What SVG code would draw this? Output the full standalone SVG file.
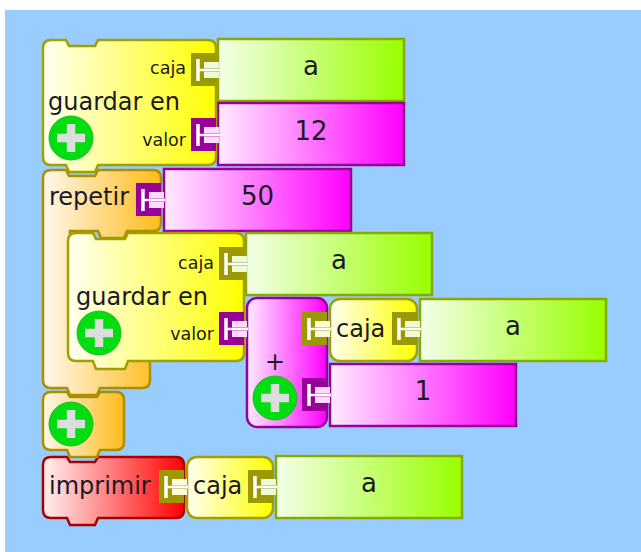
<svg xmlns="http://www.w3.org/2000/svg" width="641" height="552" viewBox="0 0 641 552">
<style>
.t{font-family:"DejaVu Sans","Liberation Sans",sans-serif;fill:#1a1a26}
.big{font-size:24px}
.lbl{font-size:17.5px;text-anchor:end}
.val{font-size:26px;text-anchor:middle}
.yb{fill:url(#gy);stroke:#a0a000;stroke-width:2.5}
.ob{fill:url(#go);stroke:#aa9000;stroke-width:2.5}
.rb{fill:url(#gr);stroke:#aa0000;stroke-width:2.5}
.mb{fill:url(#gm);stroke:#990099;stroke-width:2.5}
.gb{fill:url(#gg);stroke:#88aa00;stroke-width:2.5}
.wl{stroke:#ffffff;fill:none}
</style>
<defs>
<linearGradient id="gy" x1="0" x2="1" y1="0" y2="0"><stop offset="0" stop-color="#fffff2"/><stop offset="1" stop-color="#ffff00"/></linearGradient>
<linearGradient id="go" x1="0" x2="1" y1="0" y2="0"><stop offset="0" stop-color="#fff8ec"/><stop offset="1" stop-color="#ffbb1a"/></linearGradient>
<linearGradient id="gr" x1="0" x2="1" y1="0" y2="0"><stop offset="0" stop-color="#fff2f2"/><stop offset="1" stop-color="#ff0000"/></linearGradient>
<linearGradient id="gm" x1="0" x2="1" y1="0" y2="0"><stop offset="0" stop-color="#ffecff"/><stop offset="1" stop-color="#ff00ff"/></linearGradient>
<linearGradient id="gg" x1="0" x2="1" y1="0" y2="0"><stop offset="0" stop-color="#f4ffe8"/><stop offset="1" stop-color="#99ff00"/></linearGradient>
<g id="plusbtn"><circle r="22" fill="#00dd11" stroke="#22bb22" stroke-width="1"/><path d="M-14,0H14M0,-14V14" stroke="#dddddd" stroke-width="8.5" fill="none"/></g>
<g id="sockG"><rect x="-25" y="-17" width="25" height="33" fill="#9a9a00"/><rect x="-12" y="-8" width="15" height="16" fill="#eefbd8"/><path d="M-12,0H4" stroke="#b8c070" stroke-width="4" fill="none"/><path class="wl" d="M-18,-11V11" stroke-width="3.5"/><path class="wl" d="M-18,0H4" stroke-width="2.5"/></g>
<g id="sockY"><rect x="-25" y="-17" width="25" height="33" fill="#9a9a00"/><rect x="-12" y="-8" width="15" height="16" fill="#fffbd8"/><path d="M-12,0H4" stroke="#c8c070" stroke-width="4" fill="none"/><path class="wl" d="M-18,-11V11" stroke-width="3.5"/><path class="wl" d="M-18,0H4" stroke-width="2.5"/></g>
<g id="sockP"><rect x="-25" y="-17" width="25" height="33" fill="#990099"/><rect x="-12" y="-8" width="15" height="16" fill="#ffdcff"/><path d="M-12,0H4" stroke="#d070d0" stroke-width="4" fill="none"/><path class="wl" d="M-18,-11V11" stroke-width="3.5"/><path class="wl" d="M-18,0H4" stroke-width="2.5"/></g>
</defs>
<rect width="641" height="552" fill="#ffffff"/>
<rect x="5" y="10" width="636" height="542" fill="#99ccff"/>

<g id="connectors"></g>

<g id="val-a1"><rect class="gb" x="218" y="39" width="186" height="62"/><text class="t val" x="311" y="75">a</text></g>
<g id="val-12"><rect class="mb" x="218" y="103" width="186" height="62"/><text class="t val" x="311" y="140">12</text></g>
<g id="val-50"><rect class="mb" x="164" y="169" width="187" height="62"/><text class="t val" x="257.5" y="205">50</text></g>
<g id="val-a2"><rect class="gb" x="246" y="233" width="186" height="62"/><text class="t val" x="339" y="269">a</text></g>
<g id="val-a3"><rect class="gb" x="420" y="299" width="186" height="62"/><text class="t val" x="513" y="335">a</text></g>
<g id="val-1"><rect class="mb" x="330" y="364" width="186" height="62"/><text class="t val" x="423" y="400">1</text></g>
<g id="val-a4"><rect class="gb" x="276" y="456" width="186" height="62"/><text class="t val" x="369" y="492">a</text></g>

<g id="caja-plus"><rect class="yb" x="330" y="299" width="87" height="62" rx="10"/><text class="t big" x="336" y="337">caja</text><use href="#sockG" x="417" y="329"/></g>
<g id="caja-imprimir"><rect class="yb" x="187" y="457" width="86" height="61" rx="10"/><text class="t big" x="193" y="494">caja</text><use href="#sockG" x="273" y="487"/></g>

<g id="sum"><rect class="mb" x="247" y="298" width="80" height="129" rx="10"/><text class="t big" x="275" y="370" text-anchor="middle">+</text><use href="#plusbtn" x="275" y="398"/><use href="#sockY" x="327" y="329"/><use href="#sockP" x="327" y="395"/></g>

<g id="imprimir"><path class="rb" d="M51,457H67L70,462H95L98,457H176Q184,457 184,465V510Q184,518 176,518H98L95,525H70L67,518H51Q43,518 43,510V465Q43,457 51,457Z"/><text class="t big" x="49" y="494">imprimir</text><use href="#sockY" x="184" y="487"/></g>

<g id="add-block"><path class="ob" d="M51,392H67L70,397H97L100,392H116Q124,392 124,400V442Q124,450 116,450H100L97,457H70L67,450H51Q43,450 43,442V400Q43,392 51,392Z"/><use href="#plusbtn" x="71" y="424"/></g>

<g id="repetir"><path class="ob" d="M51,170H66L69,176H95L98,170H153Q161,170 161,178V223Q161,231 153,231H127L124,238H101L98,231H70V356H142Q150,356 150,364V380Q150,388 142,388H100L97,395H70L67,388H51Q43,388 43,380V178Q43,170 51,170Z"/><text class="t big" x="49" y="205">repetir</text><use href="#sockP" x="161" y="200"/></g>

<g id="guardar-inner"><path class="yb" d="M76,233H93L96,239H125L128,233H236Q244,233 244,241V353Q244,361 236,361H128L125,369H96L93,361H76Q68,361 68,353V241Q68,233 76,233Z"/><text class="t lbl" x="214" y="269">caja</text><text class="t big" x="76" y="305">guardar en</text><text class="t lbl" x="214" y="340">valor</text><use href="#plusbtn" x="99" y="333"/><use href="#sockG" x="244" y="264"/><use href="#sockP" x="244" y="329"/></g>

<g id="guardar-top"><path class="yb" d="M51,40H66L69,46H95L98,40H208Q216,40 216,48V157Q216,165 208,165H98L95,172H69L66,165H51Q43,165 43,157V48Q43,40 51,40Z"/><text class="t lbl" x="186" y="74">caja</text><text class="t big" x="48" y="110">guardar en</text><text class="t lbl" x="186" y="146">valor</text><use href="#plusbtn" x="71" y="138"/><use href="#sockG" x="216" y="70"/><use href="#sockP" x="216" y="135"/></g>
</svg>
